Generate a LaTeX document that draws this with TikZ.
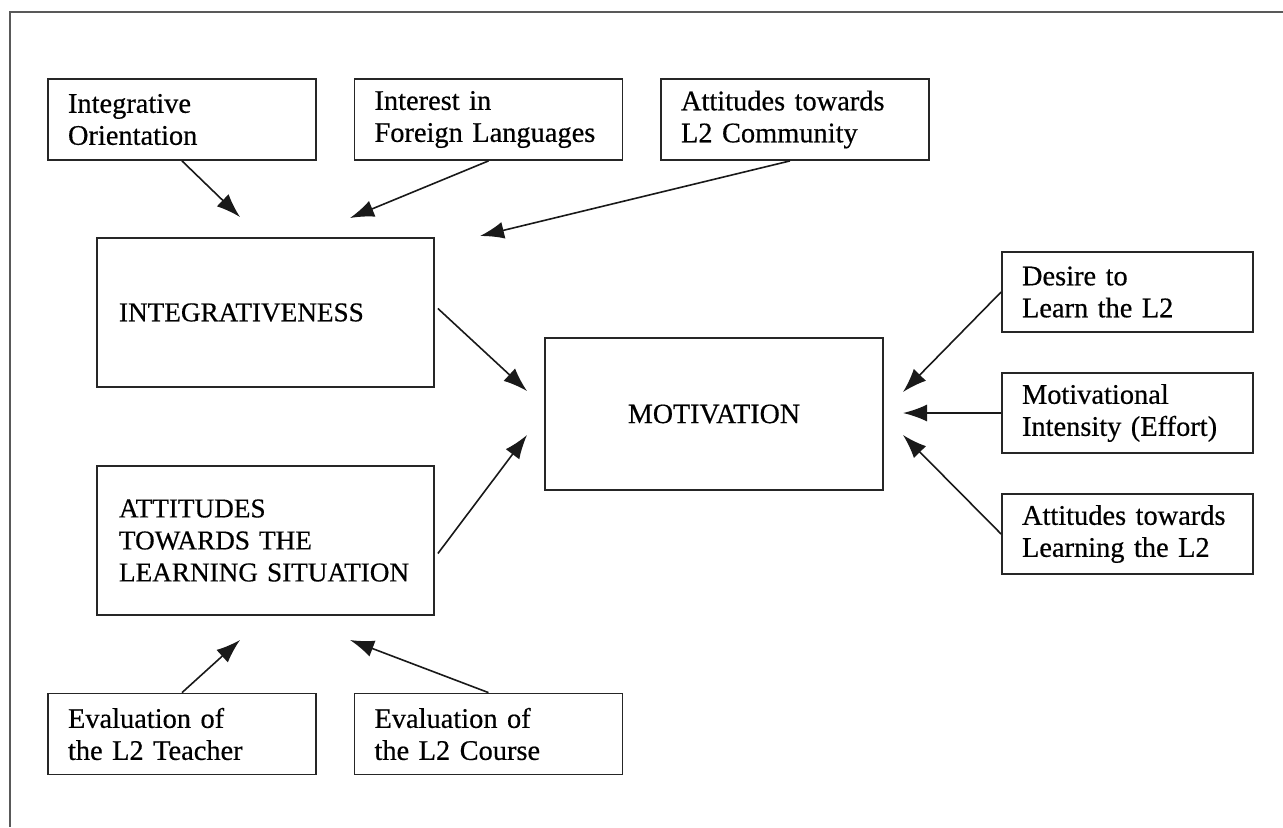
\documentclass[tikz,border=0pt]{standalone}
\usepackage{fontspec}
\setmainfont{Liberation Serif}[FakeBold=0.5]
\usetikzlibrary{arrows.meta,calc}
\hyphenpenalty=10000
\exhyphenpenalty=10000
\begin{document}
\begin{tikzpicture}[x=0.5pt,y=-0.5pt,
  every node/.style={font=\fontsize{14.2}{16}\selectfont},
  box/.style={draw=black!85,line width=0.9pt,inner ysep=0pt},
  smallbox/.style={box,inner xsep=10pt,minimum width=134pt,minimum height=40.5pt,text width=114pt,align=left},
  rightbox/.style={box,inner xsep=10pt,minimum width=125.5pt,minimum height=40pt,text width=105.5pt,align=left},
  bigbox/.style={box,inner xsep=11pt,minimum width=168.5pt,minimum height=74.5pt,text width=146.5pt,align=left,font=\fontsize{13.6}{16}\selectfont},
  arr/.style={draw=black!90,line width=0.8pt,-{Latex[length=12pt,width=8.5pt]}},
  frame/.style={draw=black!65,line width=1pt}]
\useasboundingbox (0,0) rectangle (1283,827);
\coordinate (ftl) at (10,12);
\coordinate (ftr) at (1283,12);
\coordinate (fbl) at (10,827);
\draw[frame] (ftr) -- (ftl) -- (fbl);

\node[smallbox] (io) at (182,119.5) {Integrative\\Orientation};
\node[smallbox] (ifl) at (488.5,119.5) {Interest in\\Foreign Languages};
\node[smallbox] (acom) at (795,119.5) {Attitudes towards\\L2 Community};
\node[bigbox] (integ) at (265.5,312.5) {INTEGRATIVENESS};
\node[box,inner xsep=0pt,minimum width=169pt,minimum height=76pt,font=\fontsize{14}{16}\selectfont] (mot) at (714,414) {MOTIVATION};
\node[bigbox] (als) at (265.5,540.5) {ATTITUDES\\TOWARDS THE\\LEARNING SITUATION};
\node[smallbox] (teach) at (182,734) {Evaluation of\\the L2 Teacher};
\node[smallbox] (course) at (488.5,734) {Evaluation of\\the L2 Course};
\node[rightbox] (des) at (1127.5,292) {Desire to\\Learn the L2};
\node[rightbox] (eff) at (1127.5,413) {Motivational\\Intensity (Effort)};
\node[rightbox] (alrn) at (1127.5,534) {Attitudes towards\\Learning the L2};

\coordinate (e1) at (240,217);
\coordinate (e2) at (350,218);
\coordinate (e3) at (480,236);
\coordinate (e4) at (527,391);
\coordinate (e5) at (527,435);
\coordinate (e6) at (240,640);
\coordinate (e7) at (350,640);
\coordinate (e8) at (903,392);
\coordinate (e9) at (903,413);
\coordinate (e10) at (903,435);

\draw[arr] (io.south) -- (e1);
\draw[arr] (ifl.south) -- (e2);
\draw[arr] ($(acom.south)+(-5,0)$) -- (e3);
\draw[arr] ($(integ.east)+(3,-4)$) -- (e4);
\draw[arr] ($(als.east)+(3,13)$) -- (e5);
\draw[arr] (teach.north) -- (e6);
\draw[arr] (course.north) -- (e7);
\draw[arr] (des.west) -- (e8);
\draw[arr] (eff.west) -- (e9);
\draw[arr] (alrn.west) -- (e10);
\end{tikzpicture}
\end{document}
